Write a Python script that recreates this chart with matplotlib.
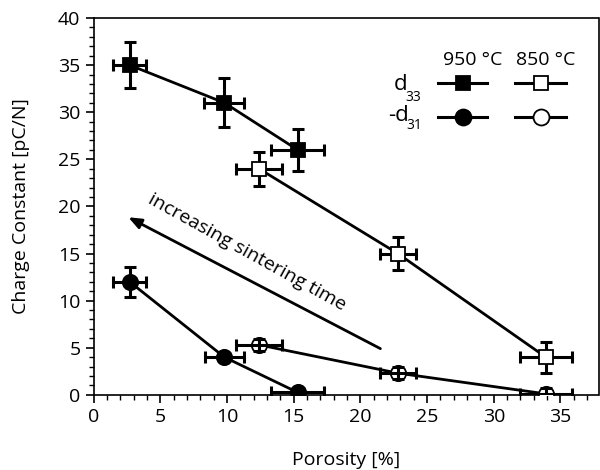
import matplotlib.pyplot as plt
from matplotlib.ticker import MultipleLocator

plt.rcParams['font.family'] = ['Open Sans', 'DejaVu Sans']

# d33 at 950 C (filled squares)
d33_950_x = [2.7, 9.8, 15.3]
d33_950_y = [35.0, 31.0, 26.0]
d33_950_xerr = [1.25, 1.5, 2.0]
d33_950_yerr = [2.4, 2.6, 2.2]

# d33 at 850 C (open squares)
d33_850_x = [12.4, 22.8, 33.9]
d33_850_y = [24.0, 15.0, 4.0]
d33_850_xerr = [1.75, 1.35, 1.95]
d33_850_yerr = [1.8, 1.8, 1.65]

# -d31 at 950 C (filled circles)
d31_950_x = [2.7, 9.8, 15.3]
d31_950_y = [12.0, 4.0, 0.25]
d31_950_xerr = [1.25, 1.45, 2.0]
d31_950_yerr = [1.6, 0.4, 0.3]

# -d31 at 850 C (open circles)
d31_850_x = [12.4, 22.8, 33.9]
d31_850_y = [5.3, 2.3, 0.1]
d31_850_xerr = [1.75, 1.35, 1.95]
d31_850_yerr = [0.6, 0.6, 0.6]

fig = plt.figure(figsize=(6, 4.7), dpi=100)
ax = fig.add_axes([0.156, 0.16, 0.8415, 0.8017])

lw = 2.0
series = [
    (d33_950_x, d33_950_y, d33_950_xerr, d33_950_yerr, 's', 'black', 2),
    (d33_850_x, d33_850_y, d33_850_xerr, d33_850_yerr, 's', 'white', 2),
    (d31_950_x, d31_950_y, d31_950_xerr, d31_950_yerr, 'o', 'black', 2),
    (d31_850_x, d31_850_y, d31_850_xerr, d31_850_yerr, 'o', 'white', 4),
]
for x, y, xe, ye, m, fc, ez in series:
    ax.plot(x, y, color='black', lw=lw, zorder=1)
    ax.errorbar(x, y, xerr=xe, yerr=ye, fmt='none', ecolor='black',
                elinewidth=2.2, capsize=4.5, capthick=2.2, zorder=ez)
    ax.plot(x, y, linestyle='none', marker=m, markersize=11 if m == 'o' else 10,
            markerfacecolor=fc, markeredgecolor='black', markeredgewidth=1.3, zorder=3)

# arrow and annotation
ax.annotate('', xy=(2.6, 18.85), xytext=(21.5, 4.9),
            arrowprops=dict(arrowstyle='-|>,head_length=0.55,head_width=0.22',
                            color='black', lw=2.0, mutation_scale=14,
                            shrinkA=0, shrinkB=0))
ax.text(11.5, 15.1, 'increasing sintering time', rotation=-29,
        ha='center', va='center', fontsize=14)

# hand made legend
ax.text(28.4, 35.5, '950 °C', ha='center', va='center', fontsize=14)
ax.text(33.9, 35.5, '850 °C', ha='center', va='center', fontsize=14)
ax.text(23.55, 32.9, 'd', ha='right', va='center', fontsize=16)
ax.text(23.35, 31.6, '33', ha='left', va='center', fontsize=10)
ax.text(23.65, 29.7, '-d', ha='right', va='center', fontsize=16)
ax.text(23.45, 28.6, '31', ha='left', va='center', fontsize=10)
for lx, x0, x1, fc in [(27.7, 25.8, 29.5, 'black'), (33.55, 31.6, 35.4, 'white')]:
    for ly, m in [(33.05, 's'), (29.5, 'o')]:
        ax.plot([x0, x1], [ly, ly], color='black', lw=2.2, zorder=1)
        ax.plot([lx], [ly], marker=m, markersize=10 if m == 's' else 11.5,
                markerfacecolor=fc, markeredgecolor='black', markeredgewidth=1.3,
                zorder=3)

ax.set_xlim(0, 37.85)
ax.set_ylim(0, 40)
ax.xaxis.set_major_locator(MultipleLocator(5))
ax.xaxis.set_minor_locator(MultipleLocator(1))
ax.yaxis.set_major_locator(MultipleLocator(5))
ax.yaxis.set_minor_locator(MultipleLocator(1))
ax.tick_params(which='major', direction='out', length=6, width=1.2, labelsize=14)
ax.tick_params(which='minor', direction='out', length=3.5, width=1.0)
for s in ax.spines.values():
    s.set_linewidth(1.2)
ax.set_xlabel('Porosity [%]', fontsize=14, labelpad=18)
ax.set_ylabel('Charge Constant [pC/N]', fontsize=14, labelpad=20)

fig.savefig('out.png', dpi=100)
